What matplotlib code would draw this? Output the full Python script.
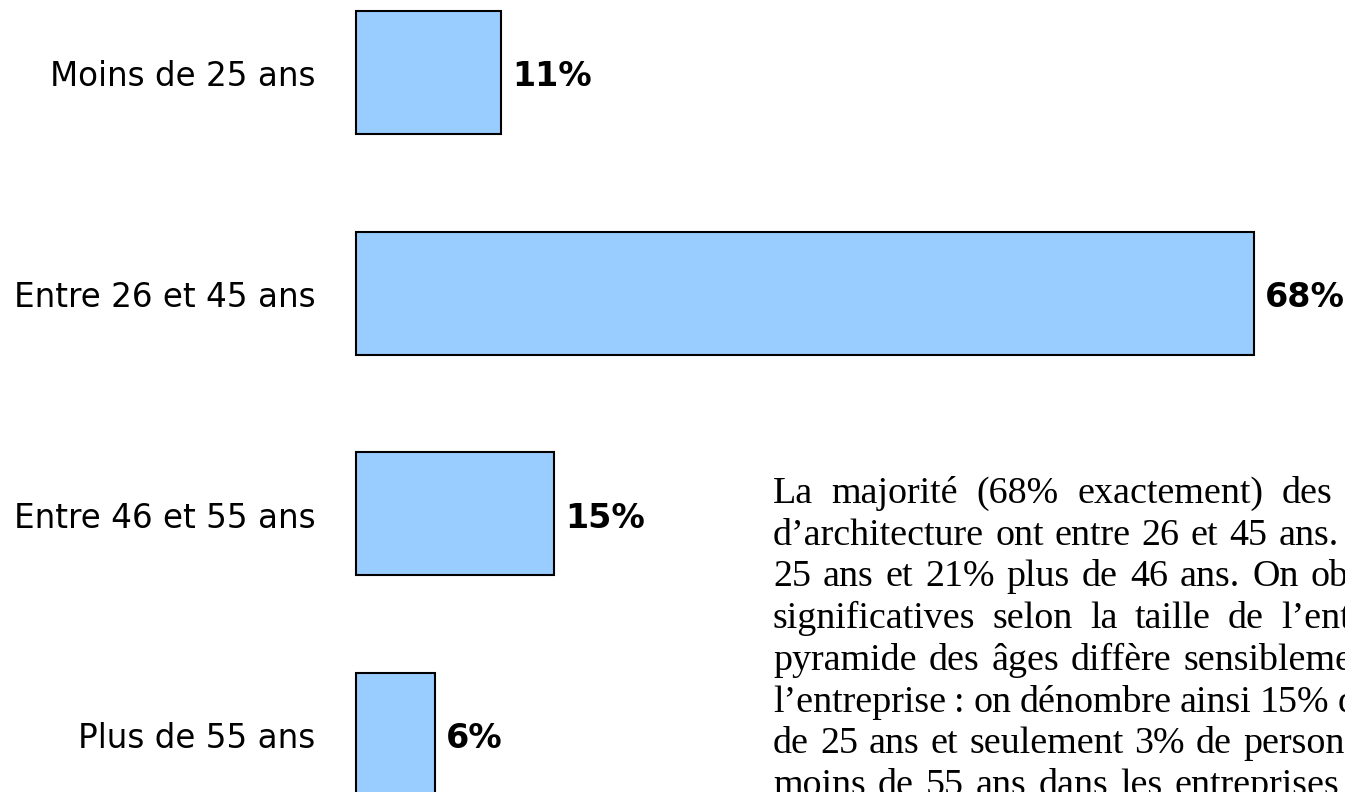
import matplotlib
matplotlib.use('Agg')
import matplotlib.pyplot as plt
from matplotlib.transforms import IdentityTransform

# age brackets and share of employees (%)
categories = ['Moins de 25 ans', 'Entre 26 et 45 ans', 'Entre 46 et 55 ans', 'Plus de 55 ans']
shares = [11, 68, 15, 6]

# commentary paragraph, one entry per printed line (justified)
para_lines = [
    'La majorité (68% exactement) des salariés',
    'd’architecture ont entre 26 et 45 ans. 11%',
    '25 ans et 21% plus de 46 ans. On observe',
    'significatives selon la taille de l’entreprise.',
    'pyramide des âges diffère sensiblement selon',
    'l’entreprise : on dénombre ainsi 15% de moins',
    'de 25 ans et seulement 3% de personnes de',
    'moins de 55 ans dans les entreprises de plus',
]
word_gaps = [18.5, 11.0, 12.0, 17.2, 12.0, 8.3, 11.0, 12]

W, H = 1345, 792
fig = plt.figure(figsize=(W / 100, H / 100), dpi=100)

left = 356
px_per_pct = 13.2
ax = fig.add_axes([left / W, 0, 1 - left / W, 1])
bars = ax.barh(range(len(shares)), shares, height=0.557, color='#99CCFF',
               edgecolor='black', linewidth=1.5)
for b in bars:
    b.set_clip_on(False)
ax.set_xlim(0, (W - left) / px_per_pct)
ax.set_ylim(3.2605, -0.3285)
ax.set_xticks([])
ax.set_yticks([])
for s in ax.spines.values():
    s.set_visible(False)
ax.patch.set_visible(False)

for i, (cat, v) in enumerate(zip(categories, shares)):
    ax.annotate(cat, (0, i), xytext=(-29, -3), textcoords='offset points',
                va='center', ha='right', fontsize=23.5)
    ax.annotate(f'{v}%', (v, i), xytext=(8, -3), textcoords='offset points',
                va='center', ha='left', fontsize=24, fontweight='bold')

# paragraph drawn word by word so the spacing can be stretched
r = fig.canvas.get_renderer()
x0, y0, lead = 773, 503, 41.7
for k, (line, gap) in enumerate(zip(para_lines, word_gaps)):
    x = x0
    y = H - (y0 + lead * k)
    for w in line.split(' '):
        t = fig.text(x, y, w, transform=IdentityTransform(), fontsize=27.4,
                     family='Liberation Serif', va='baseline', ha='left')
        x += t.get_window_extent(r).width + gap

fig.savefig('out.png', dpi=100)
